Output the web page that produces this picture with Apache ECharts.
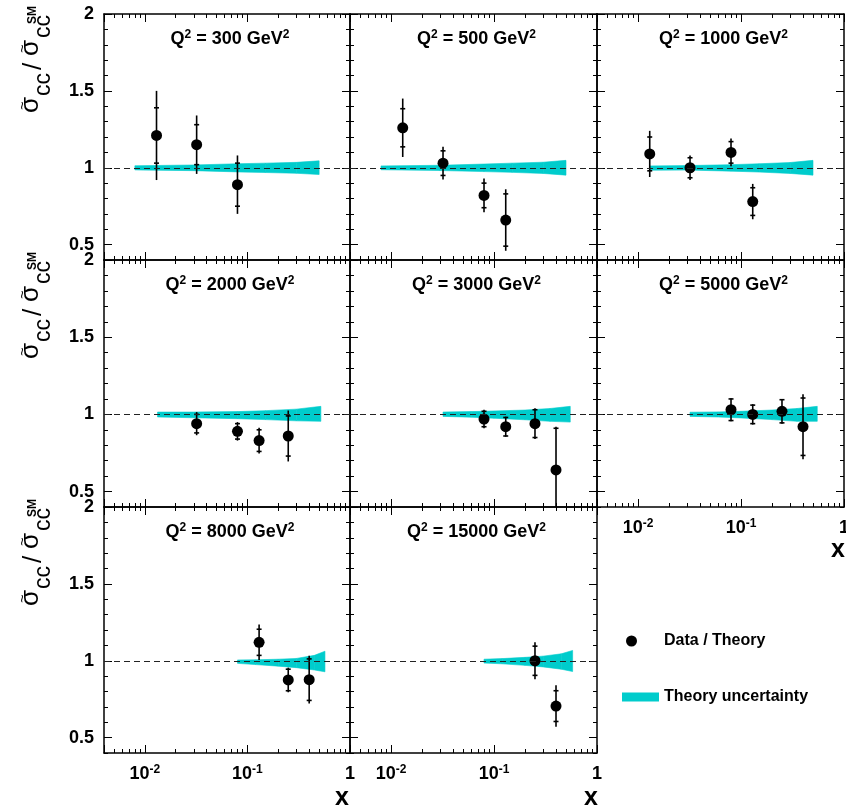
<!DOCTYPE html>
<html><head><meta charset="utf-8">
<script src="https://cdn.jsdelivr.net/npm/echarts@6/dist/echarts.min.js"></script>
<style>html,body{margin:0;padding:0;background:#fff}#c{width:846px;height:810px}</style>
</head><body><div id="c"></div>
<script>
const FONT = '"Liberation Sans", Arial, Helvetica, sans-serif';
const CYAN = '#00cccc';
const xMin = 0.004, xMax = 1, yMin = 0.4, yMax = 2;
const yMajorTicks = [0.5, 1, 1.5, 2];
const q2Labels = ['300', '500', '1000', '2000', '3000', '5000', '8000', '15000'];

// data points: x, ratio, total error, statistical error
const x300 = [0.013, 0.032, 0.08];
const r300 = [1.21, 1.15, 0.89];
const tot300 = [0.29, 0.19, 0.19];
const stat300 = [0.18, 0.13, 0.14];

const x500 = [0.013, 0.032, 0.08, 0.13];
const r500 = [1.26, 1.03, 0.82, 0.66];
const tot500 = [0.19, 0.107, 0.11, 0.2];
const stat500 = [0.124, 0.08, 0.08, 0.17];

const x1000 = [0.013, 0.032, 0.08, 0.13];
const r1000 = [1.09, 1.0, 1.10, 0.78];
const tot1000 = [0.15, 0.08, 0.09, 0.115];
const stat1000 = [0.11, 0.065, 0.07, 0.09];

const x2000 = [0.032, 0.08, 0.13, 0.25];
const r2000 = [0.94, 0.89, 0.83, 0.86];
const tot2000 = [0.075, 0.06, 0.083, 0.165];
const stat2000 = [0.06, 0.05, 0.07, 0.13];

const x3000 = [0.08, 0.13, 0.25, 0.4];
const r3000 = [0.97, 0.92, 0.94, 0.64];
const tot3000 = [0.06, 0.065, 0.1, 0.28];
const stat3000 = [0.05, 0.06, 0.09, 0.27];

const x5000 = [0.08, 0.13, 0.25, 0.4];
const r5000 = [1.03, 1.0, 1.02, 0.92];
const tot5000 = [0.075, 0.066, 0.08, 0.21];
const stat5000 = [0.07, 0.06, 0.075, 0.186];

const x8000 = [0.13, 0.25, 0.4];
const r8000 = [1.12, 0.875, 0.877];
const tot8000 = [0.115, 0.08, 0.155];
const stat8000 = [0.085, 0.07, 0.135];

const x15000 = [0.25, 0.4];
const r15000 = [1.0, 0.705];
const tot15000 = [0.12, 0.135];
const stat15000 = [0.095, 0.1];

// theory uncertainty band: x, lower edge, upper edge
const bx300 = [0.008, 0.03, 0.08, 0.15, 0.3, 0.5];
const blo300 = [0.986, 0.981, 0.973, 0.969, 0.964, 0.956];
const bhi300 = [1.013, 1.018, 1.026, 1.03, 1.035, 1.045];

const bx500 = [0.008, 0.03, 0.08, 0.15, 0.3, 0.5];
const blo500 = [0.987, 0.982, 0.975, 0.97, 0.963, 0.952];
const bhi500 = [1.012, 1.016, 1.024, 1.03, 1.036, 1.048];

const bx1000 = [0.013, 0.03, 0.08, 0.15, 0.3, 0.5];
const blo1000 = [0.984, 0.985, 0.978, 0.972, 0.963, 0.952];
const bhi1000 = [1.012, 1.014, 1.02, 1.026, 1.034, 1.048];

const bx2000 = [0.0133, 0.03, 0.08, 0.15, 0.3, 0.52];
const blo2000 = [0.983, 0.978, 0.972, 0.966, 0.958, 0.955];
const bhi2000 = [1.015, 1.015, 1.018, 1.024, 1.034, 1.052];

const bx3000 = [0.032, 0.06, 0.1, 0.2, 0.35, 0.55];
const blo3000 = [0.987, 0.982, 0.975, 0.965, 0.955, 0.95];
const bhi3000 = [1.015, 1.018, 1.022, 1.028, 1.038, 1.052];

const bx5000 = [0.032, 0.06, 0.1, 0.2, 0.35, 0.55];
const blo5000 = [0.987, 0.983, 0.977, 0.966, 0.955, 0.955];
const bhi5000 = [1.014, 1.016, 1.02, 1.028, 1.038, 1.052];

const bx8000 = [0.08, 0.12, 0.2, 0.3, 0.45, 0.57];
const blo8000 = [0.983, 0.975, 0.965, 0.955, 0.94, 0.928];
const bhi8000 = [1.005, 1.006, 1.01, 1.015, 1.035, 1.062];

const bx15000 = [0.08, 0.12, 0.2, 0.3, 0.45, 0.58];
const blo15000 = [0.985, 0.98, 0.97, 0.96, 0.945, 0.93];
const bhi15000 = [1.01, 1.014, 1.022, 1.03, 1.045, 1.067];

const panels = [
  {q2: q2Labels[0], x: x300, r: r300, tot: tot300, stat: stat300, bx: bx300, blo: blo300, bhi: bhi300},
  {q2: q2Labels[1], x: x500, r: r500, tot: tot500, stat: stat500, bx: bx500, blo: blo500, bhi: bhi500},
  {q2: q2Labels[2], x: x1000, r: r1000, tot: tot1000, stat: stat1000, bx: bx1000, blo: blo1000, bhi: bhi1000},
  {q2: q2Labels[3], x: x2000, r: r2000, tot: tot2000, stat: stat2000, bx: bx2000, blo: blo2000, bhi: bhi2000},
  {q2: q2Labels[4], x: x3000, r: r3000, tot: tot3000, stat: stat3000, bx: bx3000, blo: blo3000, bhi: bhi3000},
  {q2: q2Labels[5], x: x5000, r: r5000, tot: tot5000, stat: stat5000, bx: bx5000, blo: blo5000, bhi: bhi5000},
  {q2: q2Labels[6], x: x8000, r: r8000, tot: tot8000, stat: stat8000, bx: bx8000, blo: blo8000, bhi: bhi8000},
  {q2: q2Labels[7], x: x15000, r: r15000, tot: tot15000, stat: stat15000, bx: bx15000, blo: blo15000, bhi: bhi15000}
];

const colLeft = [104, 350, 597], colWidth = [246, 247, 247];
const rowTop = [14, 260, 507], rowHeight = [246, 247, 246];

function xLabelFmt(v) {
  const l = Math.log10(v), e = Math.round(l);
  if (Math.abs(l - e) > 1e-6) return '';
  if (e === 0) return '{b|1}';
  return '{b|10}{s|' + e + '}';
}

function renderErr(params, api) {
  const x = api.value(0), y = api.value(1), t = api.value(2), s = api.value(3);
  const cl = v => Math.min(yMax, Math.max(yMin, v));
  const pT = api.coord([x, cl(y + t)]), pB = api.coord([x, cl(y - t)]);
  const style = {stroke: '#000', lineWidth: 1.6};
  const ch = [{type: 'line', shape: {x1: pT[0], y1: pT[1], x2: pB[0], y2: pB[1]}, style: style}];
  [y + s, y - s].forEach(v => {
    if (v >= yMin && v <= yMax) {
      const p = api.coord([x, v]);
      ch.push({type: 'line', shape: {x1: p[0] - 2.5, y1: p[1], x2: p[0] + 2.5, y2: p[1]}, style: style});
    }
  });
  return {type: 'group', children: ch};
}

function renderBand(params, api) {
  const k = params.dataIndexInside;
  const x0 = api.value(0), lo0 = api.value(1), hi0 = api.value(2);
  const x1 = api.value(0, k + 1), lo1 = api.value(1, k + 1), hi1 = api.value(2, k + 1);
  if (x1 == null || isNaN(x1)) return {type: 'group', children: []};
  const pts = [api.coord([x0, lo0]), api.coord([x1, lo1]), api.coord([x1, hi1]), api.coord([x0, hi0])];
  return {type: 'polygon', shape: {points: pts}, style: {fill: CYAN, stroke: CYAN, lineWidth: 0.6}};
}

const grids = [], xAxes = [], yAxes = [], series = [], graphics = [];
const lineSt = {color: '#000', width: 1.5};
const labelRich = {
  b: {fontSize: 18, fontWeight: 'bold', fontFamily: FONT, color: '#000', lineHeight: 20},
  s: {fontSize: 12, fontWeight: 'bold', fontFamily: FONT, color: '#000', lineHeight: 12, verticalAlign: 'top'}
};

panels.forEach((p, i) => {
  const r = Math.floor(i / 3), c = i % 3;
  grids.push({left: colLeft[c], top: rowTop[r], width: colWidth[c], height: rowHeight[r], containLabel: false, outerBoundsMode: 'none'});
  const showX = i + 3 >= panels.length;
  const showY = c === 0;
  ['bottom', 'top'].forEach(pos => {
    xAxes.push({
      type: 'log', logBase: 10, gridIndex: i, position: pos, min: xMin, max: xMax,
      splitLine: {show: false}, minorSplitLine: {show: false},
      axisLine: {show: true, lineStyle: lineSt},
      axisTick: {show: true, inside: true, length: 8, lineStyle: {color: '#000', width: 1}},
      minorTick: {show: true, splitNumber: 9, length: 4, lineStyle: {color: '#000', width: 1}},
      axisLabel: {show: pos === 'bottom' && showX, formatter: xLabelFmt, margin: 11, rich: labelRich}
    });
  });
  ['left', 'right'].forEach(pos => {
    yAxes.push({
      type: 'value', gridIndex: i, position: pos, min: yMin, max: yMax, interval: 0.1,
      splitLine: {show: false},
      axisLine: {show: true, lineStyle: lineSt},
      axisTick: {show: true, inside: true, length: 8, customValues: yMajorTicks, lineStyle: {color: '#000', width: 1}},
      axisLabel: {show: pos === 'left' && showY, customValues: yMajorTicks, margin: 10,
        fontSize: 18, fontWeight: 'bold', fontFamily: FONT, color: '#000'}
    });
    yAxes.push({
      type: 'value', gridIndex: i, position: pos, min: yMin, max: yMax, interval: 0.1,
      splitLine: {show: false},
      axisLine: {show: false},
      axisTick: {show: true, inside: true, length: 4, lineStyle: {color: '#000', width: 1}},
      axisLabel: {show: false}
    });
  });
  const xi = 2 * i, yi = 4 * i;
  series.push({
    type: 'custom', name: 'Theory uncertainty', xAxisIndex: xi, yAxisIndex: yi,
    data: p.bx.map((x, k) => [x, p.blo[k], p.bhi[k]]), encode: {x: 0, y: [1, 2]},
    renderItem: renderBand, itemStyle: {color: CYAN}, color: CYAN, silent: true, z: 1, animation: false
  });
  series.push({
    type: 'custom', name: 'err-' + i, xAxisIndex: xi, yAxisIndex: yi,
    data: p.x.map((x, k) => [x, p.r[k], p.tot[k], p.stat[k]]),
    encode: {x: 0, y: 1}, renderItem: renderErr, z: 3, silent: true, animation: false,
    markLine: {silent: true, symbol: 'none', label: {show: false}, animation: false,
      lineStyle: {color: '#222', type: [6, 4], width: 1.2}, data: [{yAxis: 1}]}
  });
  series.push({
    type: 'scatter', name: 'Data / Theory', xAxisIndex: xi, yAxisIndex: yi,
    data: p.x.map((x, k) => [x, p.r[k]]), symbol: 'circle', symbolSize: 11,
    itemStyle: {color: '#000', opacity: 1}, z: 4, silent: true, animation: false
  });
  graphics.push({
    type: 'text', x: colLeft[c] + colWidth[c] / 2 + 3, y: rowTop[r] + 25, silent: true,
    style: {
      text: '{b|Q}{p|2}{b| = ' + p.q2 + ' GeV}{p|2}', align: 'center', verticalAlign: 'middle',
      rich: {
        b: {fontSize: 18, fontWeight: 'bold', fontFamily: FONT, fill: '#000', lineHeight: 21},
        p: {fontSize: 12, fontWeight: 'bold', fontFamily: FONT, fill: '#000', lineHeight: 12, verticalAlign: 'top'}
      }
    }
  });
});

// y-axis titles, one per row (rotated, reading bottom to top)
rowTop.forEach(t => {
  const big = {fontSize: 26, fontFamily: FONT, fill: '#000'};
  const sub = {fontSize: 23, fontFamily: FONT, fill: '#000'};
  const til = {fontSize: 15, fontFamily: FONT, fill: '#000'};
  graphics.push({
    type: 'group', x: 39, y: t + 99, rotation: Math.PI / 2, silent: true,
    children: [
      {type: 'text', x: 0, y: -8, style: Object.assign({text: 'σ', align: 'left', verticalAlign: 'middle'}, big)},
      {type: 'text', x: 7.5, y: -16, style: Object.assign({text: '~', align: 'center', verticalAlign: 'middle'}, til)},
      {type: 'text', x: 17, y: 5, style: Object.assign({text: 'cc', align: 'left', verticalAlign: 'middle'}, sub)},
      {type: 'text', x: 43, y: -5, style: Object.assign({text: '/', align: 'left', verticalAlign: 'middle'}, big)},
      {type: 'text', x: 57, y: -8, style: Object.assign({text: 'σ', align: 'left', verticalAlign: 'middle'}, big)},
      {type: 'text', x: 64.5, y: -16, style: Object.assign({text: '~', align: 'center', verticalAlign: 'middle'}, til)},
      {type: 'text', x: 75, y: 5, style: Object.assign({text: 'cc', align: 'left', verticalAlign: 'middle'}, sub)},
      {type: 'text', x: 89, y: -6.5, style: {text: 'SM', align: 'left', verticalAlign: 'middle', fontSize: 12, fontWeight: 'bold', fontFamily: FONT, fill: '#000'}}
    ]
  });
});

// x-axis titles under the bottom panel of each column
[[349, 798], [598, 798], [845, 550]].forEach(pt => {
  graphics.push({type: 'text', x: pt[0], y: pt[1], silent: true,
    style: {text: 'x', align: 'right', verticalAlign: 'middle', fontSize: 25, fontWeight: 'bold', fontFamily: FONT, fill: '#000'}});
});

const chart = echarts.init(document.getElementById('c'), null, {renderer: 'canvas'});
chart.setOption({
  animation: false,
  backgroundColor: '#fff',
  grid: grids, xAxis: xAxes, yAxis: yAxes, series: series, graphic: graphics,
  legend: [
    {data: [{name: 'Data / Theory', icon: 'circle', itemStyle: {color: '#000', opacity: 1}}], left: 621, top: 628,
      itemWidth: 11, itemHeight: 11, selectedMode: false,
      textStyle: {fontSize: 16, fontWeight: 'bold', fontFamily: FONT, color: '#000', padding: [0, 0, 0, 22]}},
    {data: [{name: 'Theory uncertainty', icon: 'rect', itemStyle: {color: CYAN, opacity: 1}}], left: 617, top: 684,
      itemWidth: 37, itemHeight: 9, selectedMode: false,
      textStyle: {fontSize: 16, fontWeight: 'bold', fontFamily: FONT, color: '#000'}}
  ]
});
</script></body></html>
